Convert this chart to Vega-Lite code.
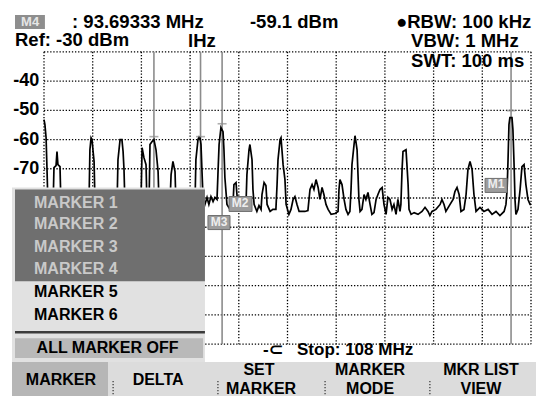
{
  "$schema": "https://vega.github.io/schema/vega-lite/v6.json",
  "width": 536,
  "height": 397,
  "autosize": {"type": "fit", "contains": "padding"},
  "padding": 0,
  "background": "#ffffff",
  "config": {"view": {"stroke": null}, "text": {"font": "Liberation Sans", "fontWeight": "bold"}},
  "datasets": {
    "trace": [
      {"f":87.00,"dbm":-53.2},{"f":87.04,"dbm":-54.9},{"f":87.09,"dbm":-59.4},{"f":87.13,"dbm":-70.3},{"f":87.17,"dbm":-82.2},{"f":87.26,"dbm":-83.9},{"f":87.39,"dbm":-83.2},{"f":87.43,"dbm":-69.6},{"f":87.52,"dbm":-68.9},{"f":87.56,"dbm":-64.1},{"f":87.60,"dbm":-68.6},{"f":87.69,"dbm":-69.3},{"f":87.73,"dbm":-82.2},{"f":87.86,"dbm":-83.9},{"f":88.12,"dbm":-83.2},{"f":88.38,"dbm":-84.6},{"f":88.64,"dbm":-83.2},{"f":88.90,"dbm":-83.9},{"f":88.94,"dbm":-82.2},{"f":88.98,"dbm":-63.5},{"f":89.03,"dbm":-59.4},{"f":89.07,"dbm":-60.0},{"f":89.11,"dbm":-63.5},{"f":89.16,"dbm":-67.5},{"f":89.20,"dbm":-82.2},{"f":89.41,"dbm":-83.9},{"f":89.67,"dbm":-83.2},{"f":89.93,"dbm":-84.6},{"f":90.15,"dbm":-82.2},{"f":90.19,"dbm":-66.9},{"f":90.28,"dbm":-60.0},{"f":90.36,"dbm":-60.0},{"f":90.41,"dbm":-64.1},{"f":90.45,"dbm":-70.3},{"f":90.49,"dbm":-82.2},{"f":90.71,"dbm":-83.9},{"f":90.97,"dbm":-83.2},{"f":91.18,"dbm":-82.2},{"f":91.23,"dbm":-62.8},{"f":91.31,"dbm":-66.2},{"f":91.40,"dbm":-68.6},{"f":91.44,"dbm":-82.2},{"f":91.53,"dbm":-82.2},{"f":91.57,"dbm":-61.7},{"f":91.66,"dbm":-60.7},{"f":91.74,"dbm":-60.0},{"f":91.83,"dbm":-63.5},{"f":91.92,"dbm":-71.0},{"f":91.96,"dbm":-82.2},{"f":92.17,"dbm":-83.9},{"f":92.43,"dbm":-82.2},{"f":92.48,"dbm":-72.0},{"f":92.56,"dbm":-67.5},{"f":92.65,"dbm":-71.0},{"f":92.69,"dbm":-82.2},{"f":92.95,"dbm":-83.9},{"f":93.21,"dbm":-83.2},{"f":93.51,"dbm":-82.2},{"f":93.55,"dbm":-66.9},{"f":93.64,"dbm":-60.0},{"f":93.69,"dbm":-59.1},{"f":93.73,"dbm":-59.4},{"f":93.77,"dbm":-61.7},{"f":93.81,"dbm":-70.3},{"f":93.86,"dbm":-80.5},{"f":93.94,"dbm":-82.2},{"f":94.03,"dbm":-79.8},{"f":94.11,"dbm":-82.2},{"f":94.20,"dbm":-79.5},{"f":94.29,"dbm":-81.2},{"f":94.37,"dbm":-79.8},{"f":94.46,"dbm":-80.5},{"f":94.50,"dbm":-72.0},{"f":94.55,"dbm":-61.7},{"f":94.63,"dbm":-55.9},{"f":94.72,"dbm":-57.3},{"f":94.76,"dbm":-63.5},{"f":94.80,"dbm":-73.0},{"f":94.89,"dbm":-82.2},{"f":95.02,"dbm":-83.9},{"f":95.15,"dbm":-82.2},{"f":95.19,"dbm":-75.4},{"f":95.28,"dbm":-74.7},{"f":95.32,"dbm":-78.8},{"f":95.37,"dbm":-82.2},{"f":95.49,"dbm":-83.9},{"f":95.62,"dbm":-82.6},{"f":95.71,"dbm":-82.2},{"f":95.75,"dbm":-72.0},{"f":95.84,"dbm":-63.5},{"f":95.88,"dbm":-61.7},{"f":95.97,"dbm":-66.9},{"f":96.01,"dbm":-77.1},{"f":96.06,"dbm":-82.2},{"f":96.18,"dbm":-84.6},{"f":96.27,"dbm":-82.6},{"f":96.36,"dbm":-83.9},{"f":96.40,"dbm":-78.8},{"f":96.49,"dbm":-74.7},{"f":96.57,"dbm":-75.7},{"f":96.62,"dbm":-82.2},{"f":96.75,"dbm":-84.6},{"f":96.87,"dbm":-83.9},{"f":97.00,"dbm":-83.9},{"f":97.05,"dbm":-75.4},{"f":97.09,"dbm":-66.9},{"f":97.18,"dbm":-60.0},{"f":97.22,"dbm":-59.4},{"f":97.26,"dbm":-63.5},{"f":97.31,"dbm":-68.6},{"f":97.39,"dbm":-73.7},{"f":97.44,"dbm":-82.2},{"f":97.56,"dbm":-85.6},{"f":97.65,"dbm":-83.9},{"f":97.74,"dbm":-80.5},{"f":97.82,"dbm":-79.5},{"f":97.91,"dbm":-82.2},{"f":98.00,"dbm":-84.6},{"f":98.13,"dbm":-84.6},{"f":98.25,"dbm":-84.6},{"f":98.38,"dbm":-84.3},{"f":98.47,"dbm":-77.1},{"f":98.56,"dbm":-75.4},{"f":98.64,"dbm":-77.1},{"f":98.73,"dbm":-73.7},{"f":98.82,"dbm":-76.4},{"f":98.90,"dbm":-80.5},{"f":98.99,"dbm":-76.4},{"f":99.07,"dbm":-78.8},{"f":99.16,"dbm":-82.2},{"f":99.25,"dbm":-83.9},{"f":99.38,"dbm":-85.6},{"f":99.55,"dbm":-85.3},{"f":99.68,"dbm":-84.6},{"f":99.72,"dbm":-77.1},{"f":99.76,"dbm":-73.7},{"f":99.85,"dbm":-75.4},{"f":99.94,"dbm":-80.5},{"f":100.02,"dbm":-83.9},{"f":100.11,"dbm":-85.6},{"f":100.19,"dbm":-84.6},{"f":100.24,"dbm":-77.1},{"f":100.28,"dbm":-68.6},{"f":100.37,"dbm":-61.7},{"f":100.41,"dbm":-58.7},{"f":100.45,"dbm":-60.7},{"f":100.50,"dbm":-63.5},{"f":100.54,"dbm":-72.0},{"f":100.58,"dbm":-80.5},{"f":100.63,"dbm":-84.6},{"f":100.71,"dbm":-83.9},{"f":100.80,"dbm":-78.8},{"f":100.88,"dbm":-80.5},{"f":100.97,"dbm":-78.1},{"f":101.06,"dbm":-82.2},{"f":101.14,"dbm":-85.6},{"f":101.23,"dbm":-85.0},{"f":101.32,"dbm":-80.5},{"f":101.40,"dbm":-78.8},{"f":101.49,"dbm":-77.1},{"f":101.58,"dbm":-76.4},{"f":101.66,"dbm":-82.2},{"f":101.75,"dbm":-85.6},{"f":101.83,"dbm":-79.8},{"f":101.92,"dbm":-80.5},{"f":102.01,"dbm":-83.9},{"f":102.09,"dbm":-82.2},{"f":102.18,"dbm":-85.6},{"f":102.26,"dbm":-80.5},{"f":102.35,"dbm":-84.6},{"f":102.39,"dbm":-82.2},{"f":102.44,"dbm":-70.3},{"f":102.48,"dbm":-64.1},{"f":102.61,"dbm":-63.5},{"f":102.65,"dbm":-68.6},{"f":102.70,"dbm":-75.4},{"f":102.74,"dbm":-83.9},{"f":102.83,"dbm":-85.6},{"f":102.96,"dbm":-85.0},{"f":103.13,"dbm":-85.6},{"f":103.30,"dbm":-84.6},{"f":103.43,"dbm":-83.2},{"f":103.56,"dbm":-84.6},{"f":103.64,"dbm":-86.0},{"f":103.73,"dbm":-84.6},{"f":103.90,"dbm":-83.9},{"f":104.08,"dbm":-82.2},{"f":104.16,"dbm":-80.5},{"f":104.25,"dbm":-82.2},{"f":104.33,"dbm":-84.6},{"f":104.51,"dbm":-82.2},{"f":104.64,"dbm":-80.5},{"f":104.72,"dbm":-77.8},{"f":104.81,"dbm":-76.4},{"f":104.90,"dbm":-78.8},{"f":104.98,"dbm":-84.6},{"f":105.11,"dbm":-83.9},{"f":105.20,"dbm":-78.8},{"f":105.28,"dbm":-70.3},{"f":105.37,"dbm":-67.5},{"f":105.46,"dbm":-70.3},{"f":105.54,"dbm":-78.8},{"f":105.63,"dbm":-84.6},{"f":105.80,"dbm":-83.2},{"f":105.97,"dbm":-84.6},{"f":106.15,"dbm":-83.9},{"f":106.32,"dbm":-85.6},{"f":106.49,"dbm":-84.6},{"f":106.66,"dbm":-86.0},{"f":106.84,"dbm":-84.6},{"f":106.92,"dbm":-82.2},{"f":106.97,"dbm":-77.1},{"f":107.01,"dbm":-66.9},{"f":107.05,"dbm":-54.9},{"f":107.09,"dbm":-52.5},{"f":107.18,"dbm":-52.5},{"f":107.22,"dbm":-56.6},{"f":107.27,"dbm":-68.6},{"f":107.31,"dbm":-80.5},{"f":107.35,"dbm":-85.6},{"f":107.44,"dbm":-83.9},{"f":107.53,"dbm":-77.1},{"f":107.61,"dbm":-69.3},{"f":107.70,"dbm":-68.6},{"f":107.78,"dbm":-75.4},{"f":107.87,"dbm":-80.5},{"f":107.96,"dbm":-82.2},{"f":108.00,"dbm":-82.2}
    ],
    "vgrid": [{"f":87},{"f":89.1},{"f":91.2},{"f":93.3},{"f":95.4},{"f":97.5},{"f":99.6},{"f":101.7},{"f":103.8},{"f":105.9},{"f":108}],
    "hgrid": [{"dbm":-30},{"dbm":-40},{"dbm":-50},{"dbm":-60},{"dbm":-70},{"dbm":-80},{"dbm":-90},{"dbm":-100},{"dbm":-110},{"dbm":-120},{"dbm":-130}],
    "markers": [{"name":"M1","f":107.14,"dbm":-50.1},{"name":"M2","f":91.74,"dbm":-59.0},{"name":"M3","f":94.68,"dbm":-54.6},{"name":"M4","f":93.75,"dbm":-59.0}],
    "mlabels": [{"name":"M1","f":106.02,"f2":106.97,"dbm":-73.3,"dbm2":-78.1},{"name":"M2","f":94.98,"f2":95.97,"dbm":-79.5,"dbm2":-84.6},{"name":"M3","f":94.07,"f2":95.02,"dbm":-86.0,"dbm2":-90.8}],
    "ylabels": [{"dbm":-40,"label":"-40"},{"dbm":-50,"label":"-50"},{"dbm":-60,"label":"-60"},{"dbm":-70,"label":"-70"}],
    "boxes": [
      {"part":"menu","f":85.62,"f2":93.94,"dbm":-76.42,"dbm2":-136.14},
      {"part":"dark","f":85.75,"f2":93.94,"dbm":-77.1,"dbm2":-108.5},
      {"part":"alloff","f":85.75,"f2":93.86,"dbm":-127.95,"dbm2":-134.78},
      {"part":"bar","f":85.62,"f2":108.2155,"dbm":-136.14,"dbm2":-147.747},
      {"part":"key","f":85.62,"f2":89.76,"dbm":-136.14,"dbm2":-147.747},
      {"part":"badge","f":85.75,"f2":87.04,"dbm":-17.37,"dbm2":-22.15}
    ],
    "header": [
      {"f":88.21,"dbm":-19.76,"label":": 93.69333 MHz"},
      {"f":95.88,"dbm":-19.76,"label":"-59.1  dBm"},
      {"f":102.18,"dbm":-19.76,"label":"●RBW: 100 kHz"},
      {"f":85.75,"dbm":-25.9,"label":"Ref: -30 dBm"},
      {"f":93.21,"dbm":-26.25,"label":"lHz"},
      {"f":102.83,"dbm":-26.25,"label":"VBW: 1 MHz"},
      {"f":102.83,"dbm":-33.07,"label":"SWT: 100 ms"}
    ],
    "menuOn": [{"f":86.57,"dbm":-81.54,"label":"MARKER 1"},{"f":86.57,"dbm":-89.04,"label":"MARKER 2"},{"f":86.57,"dbm":-96.89,"label":"MARKER 3"},{"f":86.57,"dbm":-104.4,"label":"MARKER 4"}],
    "menuOff": [{"f":86.57,"dbm":-112.25,"label":"MARKER 5"},{"f":86.57,"dbm":-120.1,"label":"MARKER 6"}],
    "softkeys": [
      {"f":87.73,"dbm":-142.29,"label":"MARKER"},
      {"f":91.92,"dbm":-142.29,"label":"DELTA"},
      {"f":96.27,"dbm":-138.7,"label":"SET"},
      {"f":96.36,"dbm":-145.2,"label":"MARKER"},
      {"f":101.06,"dbm":-138.7,"label":"MARKER"},
      {"f":101.06,"dbm":-145.2,"label":"MODE"},
      {"f":105.84,"dbm":-138.7,"label":"MKR LIST"},
      {"f":105.84,"dbm":-145.2,"label":"VIEW"}
    ],
    "seps": [{"f":89.98},{"f":94.5},{"f":99.12},{"f":103.64}]
  },
  "layer": [
    {"data": {"name": "vgrid"}, "mark": {"type": "rule", "stroke": "#000000", "strokeWidth": 1.3, "strokeDash": [1.3, 1.8]},
     "encoding": {
       "x": {"field": "f", "type": "quantitative", "scale": {"domain": [85.1027, 108.2155], "nice": false, "zero": false}, "axis": null},
       "y": {"datum": -30, "type": "quantitative", "scale": {"domain": [-147.747, -12.253], "nice": false, "zero": false}, "axis": null},
       "y2": {"datum": -130}}},
    {"data": {"name": "hgrid"}, "mark": {"type": "rule", "stroke": "#000000", "strokeWidth": 1.3, "strokeDash": [1.3, 1.8]},
     "encoding": {
       "x": {"datum": 87, "type": "quantitative", "scale": {"domain": [85.1027, 108.2155], "nice": false, "zero": false}, "axis": null},
       "x2": {"datum": 108},
       "y": {"field": "dbm", "type": "quantitative", "scale": {"domain": [-147.747, -12.253], "nice": false, "zero": false}, "axis": null}}},
    {"data": {"name": "markers"}, "mark": {"type": "rule", "stroke": "#8c8c8c", "strokeWidth": 1.6},
     "encoding": {
       "x": {"field": "f", "type": "quantitative", "scale": {"domain": [85.1027, 108.2155], "nice": false, "zero": false}, "axis": null},
       "y": {"datum": -30, "type": "quantitative", "scale": {"domain": [-147.747, -12.253], "nice": false, "zero": false}, "axis": null},
       "y2": {"datum": -130}}},
    {"data": {"name": "trace"}, "mark": {"type": "line", "stroke": "#000000", "strokeWidth": 1.7},
     "encoding": {
       "x": {"field": "f", "type": "quantitative", "scale": {"domain": [85.1027, 108.2155], "nice": false, "zero": false}, "axis": null},
       "y": {"field": "dbm", "type": "quantitative", "scale": {"domain": [-147.747, -12.253], "nice": false, "zero": false}, "axis": null}}},
    {"data": {"name": "markers"}, "mark": {"type": "tick", "orient": "horizontal", "size": 9, "thickness": 1.6, "color": "#8c8c8c"},
     "encoding": {
       "x": {"field": "f", "type": "quantitative", "scale": {"domain": [85.1027, 108.2155], "nice": false, "zero": false}, "axis": null},
       "y": {"field": "dbm", "type": "quantitative", "scale": {"domain": [-147.747, -12.253], "nice": false, "zero": false}, "axis": null}}},
    {"data": {"name": "mlabels"}, "mark": {"type": "rect", "fill": "#9c9c9c", "stroke": "#6e6e6e", "strokeWidth": 1},
     "encoding": {
       "x": {"field": "f", "type": "quantitative", "scale": {"domain": [85.1027, 108.2155], "nice": false, "zero": false}, "axis": null},
       "x2": {"field": "f2"},
       "y": {"field": "dbm", "type": "quantitative", "scale": {"domain": [-147.747, -12.253], "nice": false, "zero": false}, "axis": null},
       "y2": {"field": "dbm2"}}},
    {"data": {"name": "mlabels"}, "mark": {"type": "text", "align": "center", "baseline": "top", "dx": 11, "dy": 1, "fontSize": 12, "color": "#eeeeee"},
     "encoding": {
       "x": {"field": "f", "type": "quantitative", "scale": {"domain": [85.1027, 108.2155], "nice": false, "zero": false}, "axis": null},
       "y": {"field": "dbm", "type": "quantitative", "scale": {"domain": [-147.747, -12.253], "nice": false, "zero": false}, "axis": null},
       "text": {"field": "name"}}},
    {"data": {"name": "ylabels"}, "mark": {"type": "text", "align": "right", "baseline": "middle", "fontSize": 18, "color": "#000000"},
     "encoding": {
       "x": {"datum": 86.8, "type": "quantitative", "scale": {"domain": [85.1027, 108.2155], "nice": false, "zero": false}, "axis": null},
       "y": {"field": "dbm", "type": "quantitative", "scale": {"domain": [-147.747, -12.253], "nice": false, "zero": false}, "axis": null},
       "text": {"field": "label"}}},
    {"data": {"name": "boxes"}, "mark": {"type": "rect"},
     "encoding": {
       "x": {"field": "f", "type": "quantitative", "scale": {"domain": [85.1027, 108.2155], "nice": false, "zero": false}, "axis": null},
       "x2": {"field": "f2"},
       "y": {"field": "dbm", "type": "quantitative", "scale": {"domain": [-147.747, -12.253], "nice": false, "zero": false}, "axis": null},
       "y2": {"field": "dbm2"},
       "color": {"field": "part", "type": "nominal", "legend": null,
                 "scale": {"domain": ["menu", "dark", "alloff", "bar", "key", "badge"], "range": ["#e1e1e1", "#6f6f6f", "#b9b9b9", "#dcdcdc", "#b6b6b6", "#8e8e8e"]}}}},
    {"data": {"values": [{"f": 85.75, "f2": 93.94, "dbm": -125.91}]}, "mark": {"type": "rule", "stroke": "#3c3c3c", "strokeWidth": 2.5},
     "encoding": {
       "x": {"field": "f", "type": "quantitative", "scale": {"domain": [85.1027, 108.2155], "nice": false, "zero": false}, "axis": null},
       "x2": {"field": "f2"},
       "y": {"field": "dbm", "type": "quantitative", "scale": {"domain": [-147.747, -12.253], "nice": false, "zero": false}, "axis": null}}},
    {"data": {"values": [{"f": 86.4, "dbm": -19.76, "label": "M4"}]}, "mark": {"type": "text", "align": "center", "baseline": "middle", "fontSize": 13, "color": "#e6e6e6"},
     "encoding": {
       "x": {"field": "f", "type": "quantitative", "scale": {"domain": [85.1027, 108.2155], "nice": false, "zero": false}, "axis": null},
       "y": {"field": "dbm", "type": "quantitative", "scale": {"domain": [-147.747, -12.253], "nice": false, "zero": false}, "axis": null},
       "text": {"field": "label"}}},
    {"data": {"name": "header"}, "mark": {"type": "text", "align": "left", "baseline": "middle", "fontSize": 18.5, "color": "#000000"},
     "encoding": {
       "x": {"field": "f", "type": "quantitative", "scale": {"domain": [85.1027, 108.2155], "nice": false, "zero": false}, "axis": null},
       "y": {"field": "dbm", "type": "quantitative", "scale": {"domain": [-147.747, -12.253], "nice": false, "zero": false}, "axis": null},
       "text": {"field": "label"}}},
    {"data": {"name": "menuOn"}, "mark": {"type": "text", "align": "left", "baseline": "middle", "fontSize": 16, "color": "#c9c9c9"},
     "encoding": {
       "x": {"field": "f", "type": "quantitative", "scale": {"domain": [85.1027, 108.2155], "nice": false, "zero": false}, "axis": null},
       "y": {"field": "dbm", "type": "quantitative", "scale": {"domain": [-147.747, -12.253], "nice": false, "zero": false}, "axis": null},
       "text": {"field": "label"}}},
    {"data": {"name": "menuOff"}, "mark": {"type": "text", "align": "left", "baseline": "middle", "fontSize": 16, "color": "#000000"},
     "encoding": {
       "x": {"field": "f", "type": "quantitative", "scale": {"domain": [85.1027, 108.2155], "nice": false, "zero": false}, "axis": null},
       "y": {"field": "dbm", "type": "quantitative", "scale": {"domain": [-147.747, -12.253], "nice": false, "zero": false}, "axis": null},
       "text": {"field": "label"}}},
    {"data": {"values": [{"f": 89.74, "dbm": -131.37, "label": "ALL MARKER OFF"}]}, "mark": {"type": "text", "align": "center", "baseline": "middle", "fontSize": 16, "color": "#000000"},
     "encoding": {
       "x": {"field": "f", "type": "quantitative", "scale": {"domain": [85.1027, 108.2155], "nice": false, "zero": false}, "axis": null},
       "y": {"field": "dbm", "type": "quantitative", "scale": {"domain": [-147.747, -12.253], "nice": false, "zero": false}, "axis": null},
       "text": {"field": "label"}}},
    {"data": {"values": [{"f": 96.44, "dbm": -132.05, "label": "-⊂"}, {"f": 97.91, "dbm": -132.05, "label": "Stop: 108 MHz"}]}, "mark": {"type": "text", "align": "left", "baseline": "middle", "fontSize": 17, "color": "#000000"},
     "encoding": {
       "x": {"field": "f", "type": "quantitative", "scale": {"domain": [85.1027, 108.2155], "nice": false, "zero": false}, "axis": null},
       "y": {"field": "dbm", "type": "quantitative", "scale": {"domain": [-147.747, -12.253], "nice": false, "zero": false}, "axis": null},
       "text": {"field": "label"}}},
    {"data": {"name": "seps"}, "mark": {"type": "rule", "stroke": "#333333", "strokeWidth": 1.2, "strokeDash": [1.2, 1.8]},
     "encoding": {
       "x": {"field": "f", "type": "quantitative", "scale": {"domain": [85.1027, 108.2155], "nice": false, "zero": false}, "axis": null},
       "y": {"datum": -142.63, "type": "quantitative", "scale": {"domain": [-147.747, -12.253], "nice": false, "zero": false}, "axis": null},
       "y2": {"datum": -147.41}}},
    {"data": {"name": "softkeys"}, "mark": {"type": "text", "align": "center", "baseline": "middle", "fontSize": 16, "color": "#000000"},
     "encoding": {
       "x": {"field": "f", "type": "quantitative", "scale": {"domain": [85.1027, 108.2155], "nice": false, "zero": false}, "axis": null},
       "y": {"field": "dbm", "type": "quantitative", "scale": {"domain": [-147.747, -12.253], "nice": false, "zero": false}, "axis": null},
       "text": {"field": "label"}}}
  ]
}
